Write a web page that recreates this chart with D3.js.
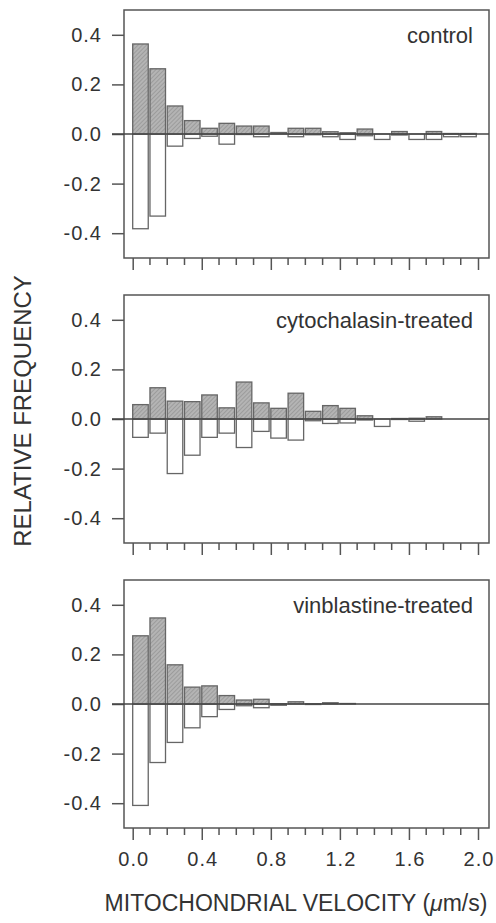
<!DOCTYPE html>
<html>
<head>
<meta charset="utf-8">
<script src="https://cdn.jsdelivr.net/npm/d3@7"></script>
<style>
  body { margin: 0; background: #fff; }
  text { font-family: "Liberation Sans", Arial, sans-serif; fill: #333; }
</style>
</head>
<body>
<div id="chart"></div>
<script>
// bins of 0.1 um/s, bar starts
var binStart = [0.0,0.1,0.2,0.3,0.4,0.5,0.6,0.7,0.8,0.9,1.0,1.1,1.2,1.3,1.4,1.5,1.6,1.7,1.8,1.9];

var yTicks = [0.4, 0.2, 0.0, -0.2, -0.4];
var xMajor = [0.0, 0.4, 0.8, 1.2, 1.6, 2.0];
var xMinor = [0.1,0.2,0.3,0.5,0.6,0.7,0.9,1.0,1.1,1.3,1.4,1.5,1.7,1.8,1.9];

// shaded (upward) and open (downward) frequencies
var controlUp   = [0.363,0.263,0.113,0.054,0.023,0.043,0.032,0.032,0.006,0.023,0.023,0.009,0.005,0.020,0.000,0.010,0.000,0.010,0.002,0.002];
var controlDown = [-0.382,-0.331,-0.049,-0.018,-0.009,-0.041,-0.002,-0.011,0.000,-0.011,-0.003,-0.011,-0.022,-0.007,-0.022,-0.004,-0.022,-0.022,-0.011,-0.011];

var cytoUp   = [0.058,0.126,0.072,0.070,0.097,0.045,0.149,0.065,0.043,0.104,0.031,0.054,0.043,0.013,0.000,0.002,0.003,0.009,0.000,0.000];
var cytoDown = [-0.074,-0.057,-0.220,-0.146,-0.074,-0.057,-0.115,-0.050,-0.077,-0.085,-0.007,-0.018,-0.016,-0.004,-0.030,-0.002,-0.009,0.000,0.000,0.000];

var vinUp   = [0.275,0.347,0.158,0.068,0.073,0.034,0.016,0.019,0.001,0.009,0.001,0.005,0.002,0.000,0.000,0.000,0.000,0.000,0.000,0.000];
var vinDown = [-0.409,-0.236,-0.155,-0.096,-0.051,-0.022,-0.007,-0.015,-0.005,0.000,-0.002,0.000,0.000,0.000,0.000,0.000,0.000,0.000,0.000,0.000];

var panels = [
  {label: "control", up: controlUp, down: controlDown},
  {label: "cytochalasin-treated", up: cytoUp, down: cytoDown},
  {label: "vinblastine-treated", up: vinUp, down: vinDown}
];

var width = 496, height = 923;
var boxL = 124, boxR = 489, panelH = 248;
var tops = [10, 295, 580];
var axisCol = "#555";

// plain hyphen for negatives, like the original
var fmt = function(d){ return d3.format(".1f")(d).replace("\u2212", "-"); };

var svg = d3.select("#chart").append("svg")
    .attr("width", width)
    .attr("height", height);

// hatch pattern for shaded bars
var pat = svg.append("defs").append("pattern")
    .attr("id", "hatch")
    .attr("patternUnits", "userSpaceOnUse")
    .attr("width", 3).attr("height", 3)
    .attr("patternTransform", "rotate(45)");
pat.append("rect").attr("width", 3).attr("height", 3).attr("fill", "#b4b4b4");
pat.append("line").attr("x1", 0).attr("y1", 0).attr("x2", 0).attr("y2", 3)
    .attr("stroke", "#8c8c8c").attr("stroke-width", 1.2);

var x = d3.scaleLinear().domain([0, 2]).range([132.7, 478]);
var barW = x(0.09) - x(0);

panels.forEach(function(p, k){
  var top = tops[k];
  var y = d3.scaleLinear().domain([-0.5, 0.5]).range([top + panelH, top]);
  var g = svg.append("g");

  // frame
  g.append("rect")
    .attr("x", boxL).attr("y", top)
    .attr("width", boxR - boxL).attr("height", panelH)
    .attr("fill", "none").attr("stroke", axisCol).attr("stroke-width", 1.5);

  // y axis
  var ya = g.append("g")
    .attr("transform", "translate(" + boxL + ",0)")
    .call(d3.axisLeft(y).tickValues(yTicks).tickSize(12).tickPadding(10)
      .tickFormat(fmt));
  ya.select(".domain").remove();
  ya.selectAll("line").attr("stroke", axisCol).attr("stroke-width", 1.5);
  ya.selectAll("text").style("font-size", "20px").attr("fill", "#333")
    .attr("letter-spacing", "1px");

  // x ticks
  var xa = g.append("g")
    .attr("transform", "translate(0," + (top + panelH) + ")")
    .call(d3.axisBottom(x).tickValues(xMajor).tickSize(12).tickPadding(12)
      .tickFormat(fmt));
  xa.select(".domain").remove();
  xa.selectAll("line").attr("stroke", axisCol).attr("stroke-width", 1.5);
  xa.selectAll("text").style("font-size", "20px").attr("fill", "#333")
    .attr("letter-spacing", "1px").attr("dx", "0.5px");
  if (k < 2) xa.selectAll("text").remove();

  g.selectAll(".minor").data(xMinor).enter().append("line")
    .attr("x1", function(d){ return x(d); }).attr("x2", function(d){ return x(d); })
    .attr("y1", top + panelH).attr("y2", top + panelH + 7)
    .attr("stroke", axisCol).attr("stroke-width", 1.5);

  // open bars (downward)
  g.selectAll(".down").data(p.down).enter().append("rect")
    .attr("x", function(d, i){ return x(binStart[i]); })
    .attr("y", y(0))
    .attr("width", barW)
    .attr("height", function(d){ return y(d) - y(0); })
    .attr("fill", "#fff").attr("stroke", "#666").attr("stroke-width", 1.3);

  // shaded bars (upward)
  g.selectAll(".up").data(p.up).enter().append("rect")
    .attr("x", function(d, i){ return x(binStart[i]); })
    .attr("y", function(d){ return y(d); })
    .attr("width", barW)
    .attr("height", function(d){ return y(0) - y(d); })
    .attr("fill", "url(#hatch)").attr("stroke", "#666").attr("stroke-width", 1.3);

  // zero line
  g.append("line")
    .attr("x1", boxL - 12).attr("x2", boxR)
    .attr("y1", y(0)).attr("y2", y(0))
    .attr("stroke", "#444").attr("stroke-width", 1.5);

  // panel label
  g.append("text")
    .attr("x", 473).attr("y", top + 33)
    .attr("text-anchor", "end")
    .style("font-size", "22px")
    .text(p.label);
});

// axis titles
svg.append("text")
  .attr("transform", "translate(31,411) rotate(-90)")
  .attr("text-anchor", "middle")
  .style("font-size", "24px")
  .text("RELATIVE FREQUENCY");

var xt = svg.append("text")
  .attr("x", 296).attr("y", 911)
  .attr("text-anchor", "middle")
  .style("font-size", "23px");
xt.append("tspan").text("MITOCHONDRIAL VELOCITY (");
xt.append("tspan").style("font-style", "italic").text("μ");
xt.append("tspan").text("m/s)");
</script>
</body>
</html>
